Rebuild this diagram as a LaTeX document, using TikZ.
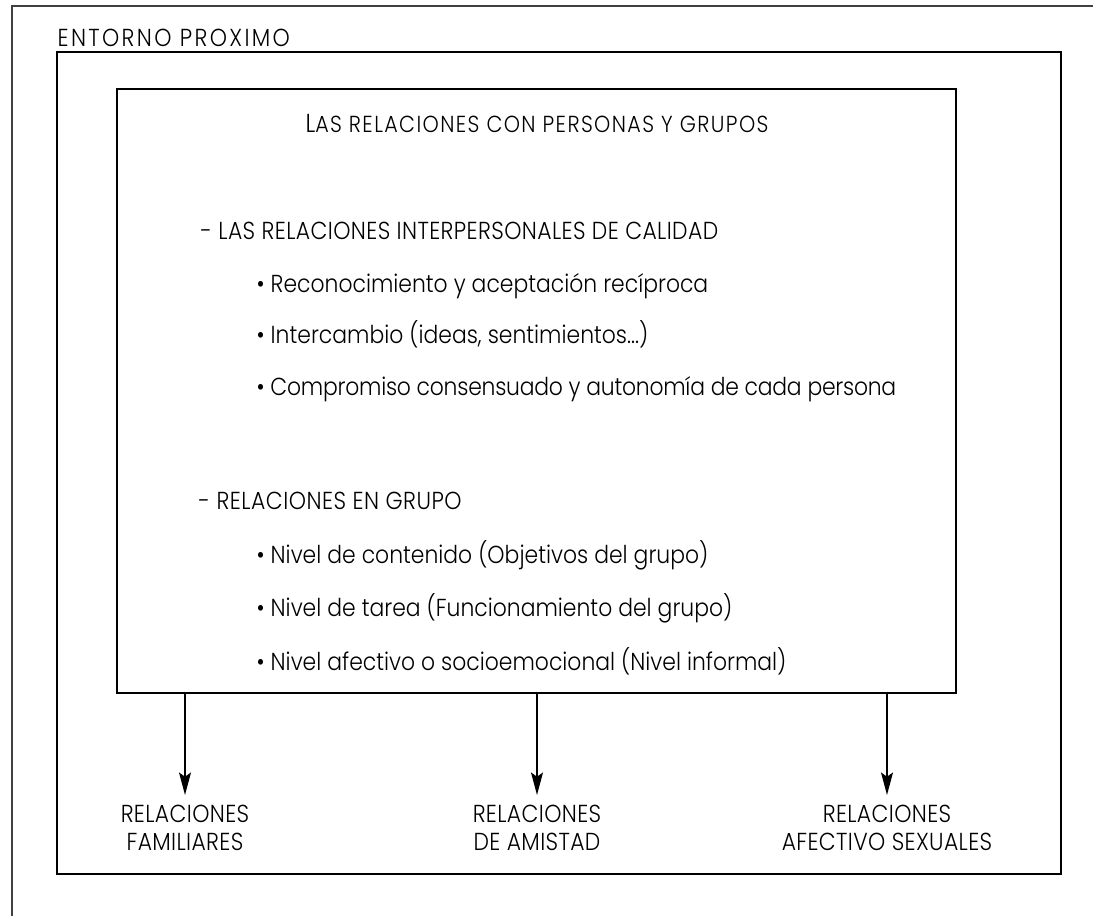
\documentclass[tikz,border=0pt]{standalone}
\usepackage{fontspec}
\setmainfont{Poppins}[UprightFont={* Light},FakeStretch=0.89]
\usetikzlibrary{arrows.meta}

\begin{document}
\begin{tikzpicture}[x=0.025cm,y=-0.025cm,line width=1pt,
   txt/.style={anchor=base west,inner sep=0pt,
    font=\fontsize{17.5}{20.5}\selectfont},
   lbl/.style={anchor=north,align=center,inner sep=0pt,inner ysep=7pt,
    font=\fontsize{17.5}{19.9}\selectfont\addfontfeature{LetterSpace=1.5}},
   arr/.style={-{Stealth[length=16pt,width=8.5pt,inset=3pt]}}
    ]
  \useasboundingbox (0,0) rectangle (1093,916);

  % -- frames
  \draw[black!75] (1093,6) -- (12,6) -- (12,916);
  \draw (57,52) rectangle (1061,874);
  \node[txt] (entorno) at (57,46) {\addfontfeature{LetterSpace=9.5}ENTORNO PROXIMO};
  \node[draw,minimum width=20.975cm,minimum height=15.1cm] (rel) at (536.5,391) {};

  % -- inner text
  \node[txt,anchor=base] (titulo) at (537,132)
    {\addfontfeature{LetterSpace=6}{\fontsize{18.5}{20}\selectfont L}{\fontsize{16.5}{20}\selectfont AS RELACIONES CON PERSONAS Y GRUPOS}};
  \node[txt] (inter) at (200,239) {\addfontfeature{LetterSpace=1.6}- LAS RELACIONES INTERPERSONALES DE CALIDAD};
  \node[txt] (i1) at (256,292) {• Reconocimiento y aceptación recíproca};
  \node[txt] (i2) at (256,343) {• Intercambio (ideas, sentimientos...)};
  \node[txt] (i3) at (256,395) {\addfontfeature{LetterSpace=-1}• Compromiso consensuado y autonomía de cada persona};
  \node[txt] (grupo) at (198,509) {\addfontfeature{LetterSpace=2}- RELACIONES EN GRUPO};
  \node[txt] (g1) at (256,563) {• Nivel de contenido (Objetivos del grupo)};
  \node[txt] (g2) at (256,616) {• Nivel de tarea (Funcionamiento del grupo)};
  \node[txt] (g3) at (256,670) {• Nivel afectivo o socioemocional (Nivel informal)};

  % -- bottom row
  \node[lbl] at (185,795) (fam) {RELACIONES\\FAMILIARES};
  \node[lbl] at (537,795) (ami) {RELACIONES\\DE AMISTAD};
  \node[lbl] at (887,795) (sex) {RELACIONES\\AFECTIVO SEXUALES};

  % -- arrows
  \draw[arr] (rel.south -| fam.north) -- (fam.north);
  \draw[arr] (rel.south -| ami.north) -- (ami.north);
  \draw[arr] (rel.south -| sex.north) -- (sex.north);
\end{tikzpicture}
\end{document}
